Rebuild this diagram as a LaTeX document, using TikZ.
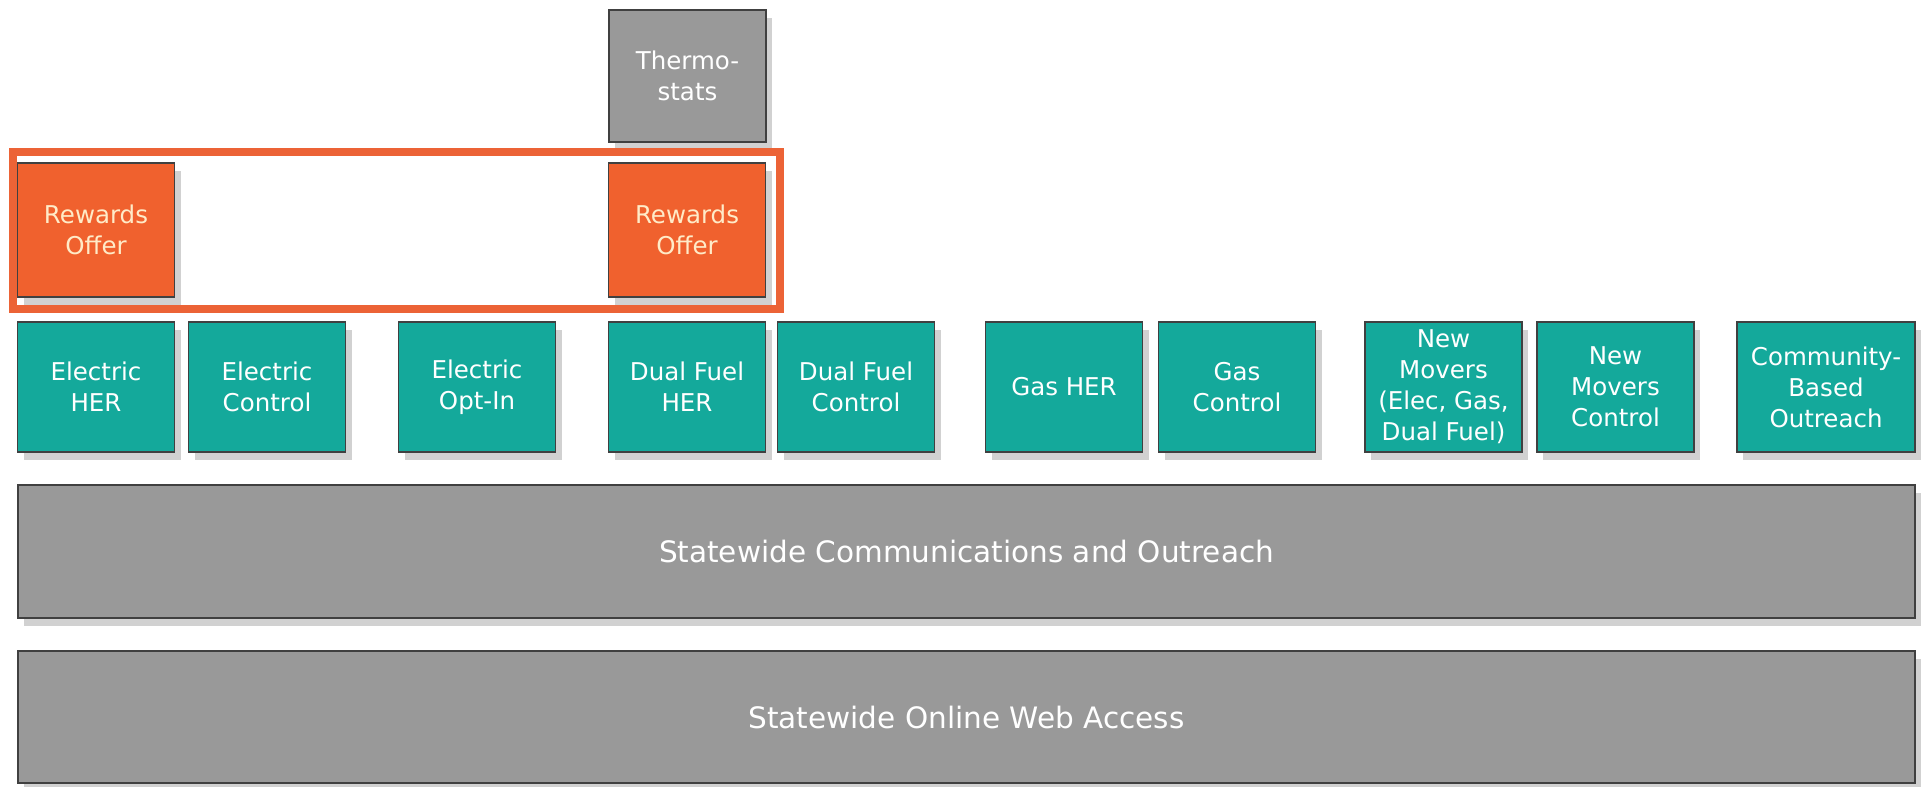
\documentclass[tikz,border=0pt]{standalone}
\usepackage{fontspec}
\setmainfont{DejaVu Sans}
\usetikzlibrary{shadows}
\definecolor{tealbox}{HTML}{14A99B}
\definecolor{orangebox}{HTML}{F0612E}
\definecolor{frameor}{HTML}{EC6336}
\definecolor{graybox}{HTML}{999999}
\definecolor{orangetext}{HTML}{FFEBC8}
\begin{document}
\begin{tikzpicture}[x=1pt,y=-1pt,
  box/.style={draw=black!75, line width=1.5pt, text=white, align=center,
    font=\fontsize{24.5}{31}\selectfont, inner sep=0pt,
    minimum width=157pt, minimum height=130pt,
    drop shadow={shadow xshift=6pt, shadow yshift=-8pt, fill=black!18, opacity=1}},
  tealnode/.style={box, fill=tealbox},
  orangenode/.style={box, fill=orangebox, text=orangetext, minimum height=134pt},
  graynode/.style={box, fill=graybox, minimum height=132pt},
  barnode/.style={box, fill=graybox, minimum width=1897pt, minimum height=133pt,
    font=\fontsize{29.5}{36}\selectfont},
  frame/.style={draw=frameor, line width=8pt}]
\useasboundingbox (0,0) rectangle (1925,787);

\node[graynode] (thermo) at (687.5,76) {Thermo-\\stats};
\node[orangenode] (rew1) at (96,230) {Rewards\\Offer};
\node[orangenode] (rew2) at (687,230) {Rewards\\Offer};

\node[tealnode] (eh) at (96,387) {Electric\\HER};
\node[tealnode] (ec) at (267,387) {Electric\\Control};
\node[tealnode] (eo) at (477,387) {Electric\\Opt-In};
\node[tealnode] (dh) at (687,387) {Dual Fuel\\HER};
\node[tealnode] (dc) at (856,387) {Dual Fuel\\Control};
\node[tealnode] (gh) at (1064,387) {Gas HER};
\node[tealnode] (gc) at (1237,387) {Gas\\Control};
\node[tealnode] (nm) at (1443.5,387) {New\\Movers\\(Elec, Gas,\\Dual Fuel)};
\node[tealnode] (nmc) at (1615.5,387) {New\\Movers\\Control};
\node[tealnode, minimum width=178pt] (cbo) at (1826,387) {Community-\\Based\\Outreach};

\node[barnode] (comm) at (966.5,551.5) {Statewide Communications and Outreach};
\node[barnode, minimum height=132pt] (web) at (966.5,717) {Statewide Online Web Access};

\draw[frame] (13,152) rectangle (780,309);
\end{tikzpicture}
\end{document}
